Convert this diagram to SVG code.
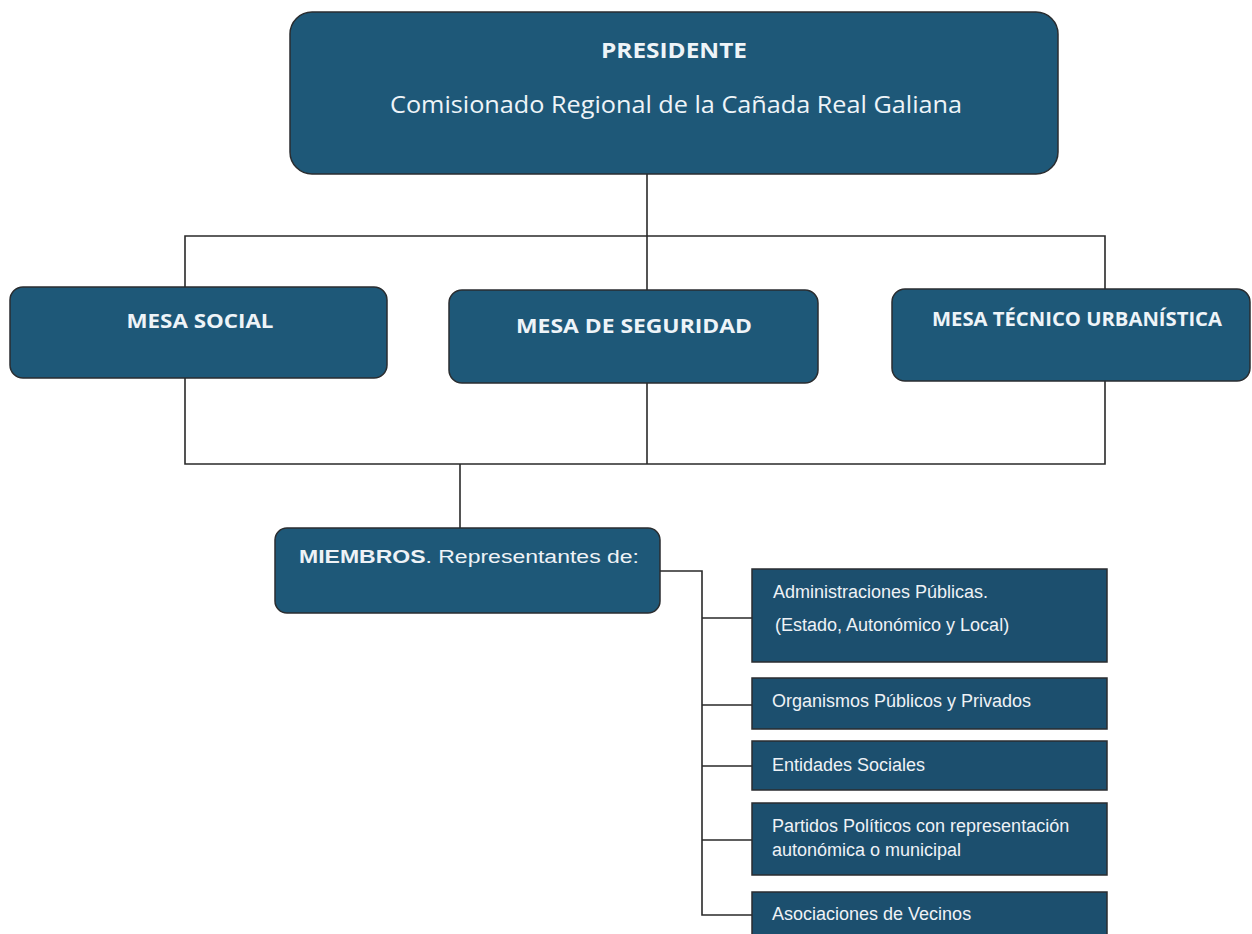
<svg xmlns="http://www.w3.org/2000/svg" width="1252" height="934" viewBox="0 0 1252 934">
<style>
.rbox{fill:#1e5878;stroke:#2a2d30;stroke-width:1.5}
.sbox{fill:#1c4f6e;stroke:#2a2d30;stroke-width:1.5}
.hd{font-family:"Open Sans","Noto Sans",sans-serif;fill:#eef4f8}
.bd{font-weight:bold}
.ar{font-family:"Liberation Sans",Arial,sans-serif;fill:#eef2f6;font-size:18px}
.ln{fill:none;stroke:#2a2a2a;stroke-width:1.6}
</style>
<rect width="1252" height="934" fill="#ffffff"/>
<g id="connectors">
<path class="ln" d="M647 174 V290"/>
<path class="ln" d="M185 288 V236 H1105 V290"/>
<path class="ln" d="M185 378 V464 H1105 V381"/>
<path class="ln" d="M647 383 V464"/>
<path class="ln" d="M460 464 V528"/>
<path class="ln" d="M660 571 H702 V915 H752"/>
<path class="ln" d="M702 618 H752 M702 705 H752 M702 766 H752 M702 840 H752"/>
</g>
<g id="presidente">
<rect class="rbox" x="290" y="12" width="768" height="162" rx="22"/>
<text class="hd bd" x="674" y="58" font-size="22" text-anchor="middle" textLength="146" lengthAdjust="spacingAndGlyphs">PRESIDENTE</text>
<text class="hd" x="676" y="113" font-size="23" text-anchor="middle" textLength="572" lengthAdjust="spacingAndGlyphs">Comisionado Regional de la Cañada Real Galiana</text>
</g>
<g id="mesa-social">
<rect class="rbox" x="10" y="287" width="377" height="91" rx="13"/>
<text class="hd bd" x="200" y="328" font-size="19" text-anchor="middle" textLength="147" lengthAdjust="spacingAndGlyphs">MESA SOCIAL</text>
</g>
<g id="mesa-seguridad">
<rect class="rbox" x="449" y="290" width="369" height="93" rx="13"/>
<text class="hd bd" x="634" y="333" font-size="19" text-anchor="middle" textLength="236" lengthAdjust="spacingAndGlyphs">MESA DE SEGURIDAD</text>
</g>
<g id="mesa-tecnico">
<rect class="rbox" x="892" y="289" width="358" height="92" rx="13"/>
<text class="hd bd" x="1077" y="326" font-size="19" text-anchor="middle" textLength="290" lengthAdjust="spacingAndGlyphs">MESA TÉCNICO URBANÍSTICA</text>
</g>
<g id="miembros">
<rect class="rbox" x="275" y="528" width="385" height="85" rx="12"/>
<text class="ar" x="299" y="563" textLength="340" lengthAdjust="spacingAndGlyphs"><tspan font-weight="bold">MIEMBROS</tspan>. Representantes de:</text>
</g>
<g id="administraciones">
<rect class="sbox" x="752" y="569" width="355" height="93"/>
<text class="ar" x="773" y="598">Administraciones Públicas.</text>
<text class="ar" x="775" y="631">(Estado, Autonómico y Local)</text>
</g>
<g id="organismos">
<rect class="sbox" x="752" y="678" width="355" height="51"/>
<text class="ar" x="772" y="707">Organismos Públicos y Privados</text>
</g>
<g id="entidades">
<rect class="sbox" x="752" y="741" width="355" height="49"/>
<text class="ar" x="772" y="771">Entidades Sociales</text>
</g>
<g id="partidos">
<rect class="sbox" x="752" y="803" width="355" height="72"/>
<text class="ar" x="772" y="832">Partidos Políticos con representación</text>
<text class="ar" x="772" y="856">autonómica o municipal</text>
</g>
<g id="asociaciones">
<rect class="sbox" x="752" y="892" width="355" height="50"/>
<text class="ar" x="772" y="920">Asociaciones de Vecinos</text>
</g>
</svg>
